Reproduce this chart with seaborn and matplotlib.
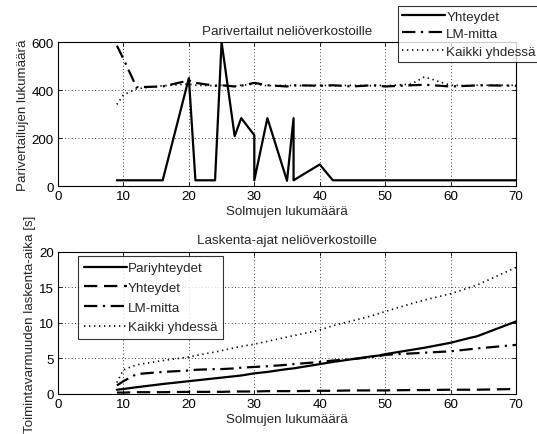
import matplotlib
matplotlib.use("Agg")
import matplotlib.pyplot as plt
import seaborn as sns
import pandas as pd

# Node counts (duplicates at 30 and 36 are two different square networks)
solmut = [9, 10, 12, 16, 20, 21, 24, 25, 27, 28, 30, 30, 32, 35, 36, 36,
          40, 42, 45, 48, 49, 50, 54, 56, 60, 63, 64, 70]

# Top: number of pairwise comparisons
par_yhteydet = [24, 24, 24, 24, 450, 24, 24, 600, 208, 283, 212, 24, 283, 22, 283, 24,
                90, 24, 24, 24, 24, 24, 24, 24, 24, 24, 24, 24]
par_lm = [585, 530, 412, 415, 440, 430, 418, 420, 415, 418, 430, 430, 420, 415, 420, 420,
          418, 420, 415, 420, 418, 415, 420, 422, 415, 418, 420, 418]
par_kaikki = [340, 380, 405, 418, 425, 420, 418, 420, 415, 420, 425, 425, 418, 420, 418, 418,
              420, 418, 420, 418, 420, 418, 425, 455, 420, 418, 420, 420]

# Bottom: computation times [s]
aika_pari = [0.6, 0.7, 0.95, 1.4, 1.8, 1.9, 2.2, 2.3, 2.5, 2.6, 2.9, 2.9, 3.1, 3.5, 3.6, 3.6,
             4.2, 4.5, 4.9, 5.3, 5.4, 5.6, 6.2, 6.5, 7.2, 7.9, 8.1, 10.2]
aika_yht = [0.2, 0.2, 0.25, 0.25, 0.3, 0.3, 0.3, 0.3, 0.35, 0.35, 0.35, 0.35, 0.4, 0.4, 0.4, 0.4,
            0.45, 0.45, 0.5, 0.5, 0.5, 0.5, 0.55, 0.55, 0.6, 0.6, 0.6, 0.7]
aika_lm = [1.2, 1.8, 2.8, 3.1, 3.3, 3.4, 3.5, 3.5, 3.6, 3.7, 3.8, 3.8, 3.9, 4.1, 4.2, 4.2,
           4.5, 4.7, 4.9, 5.2, 5.3, 5.5, 5.7, 5.8, 6.0, 6.3, 6.4, 6.9]
aika_kaikki = [1.6, 3.4, 4.1, 4.7, 5.2, 5.4, 5.9, 6.1, 6.5, 6.7, 7.0, 7.0, 7.4, 8.0, 8.2, 8.2,
               9.0, 9.6, 10.3, 11.0, 11.3, 11.6, 12.7, 13.2, 14.1, 15.0, 15.3, 17.8]

x_ticks = [0, 10, 20, 30, 40, 50, 60, 70]
y_ticks_top = [0, 200, 400, 600]
y_ticks_bot = [0, 5, 10, 15, 20]

sns.set_theme(style="white")
plt.rcParams['font.family'] = ['Liberation Sans', 'DejaVu Sans']
FS = 9.6
plt.rcParams['font.size'] = FS

fig = plt.figure(figsize=(5.37, 4.35), dpi=100)
ax1 = fig.add_axes([0.108, 0.570, 0.853, 0.331])
ax2 = fig.add_axes([0.108, 0.092, 0.853, 0.327])

df = pd.DataFrame({"x": solmut,
                   "py": par_yhteydet, "plm": par_lm, "pk": par_kaikki,
                   "ap": aika_pari, "ay": aika_yht, "alm": aika_lm, "ak": aika_kaikki})

SOLID = '-'
DASH = (0, (6, 3))
DASHDOT = (0, (6, 2.5, 1, 2.5))
DOT = (0, (0.8, 2.2))


def draw(ax, col, label, ls, lw=1.6):
    sns.lineplot(data=df, x="x", y=col, ax=ax, sort=False, estimator=None,
                 color='black', linestyle=ls, linewidth=lw, label=label)


draw(ax1, "py", "Yhteydet", SOLID)
draw(ax1, "plm", "LM-mitta", DASHDOT)
draw(ax1, "pk", "Kaikki yhdessä", DOT, 1.2)

draw(ax2, "ap", "Pariyhteydet", SOLID)
draw(ax2, "ay", "Yhteydet", DASH)
draw(ax2, "alm", "LM-mitta", DASHDOT)
draw(ax2, "ak", "Kaikki yhdessä", DOT, 1.2)

for ax, yt, ylim in [(ax1, y_ticks_top, (0, 600)), (ax2, y_ticks_bot, (0, 20))]:
    ax.set_xlim(0, 70)
    ax.set_ylim(*ylim)
    ax.set_xticks(x_ticks)
    ax.set_yticks(yt)
    ax.grid(True, color='black', linestyle=(0, (1, 3)), linewidth=0.6)
    for s in ax.spines.values():
        s.set_color('black')
        s.set_linewidth(0.8)
    ax.tick_params(direction='in', length=3, width=0.6, colors='black',
                   labelsize=FS, top=True, right=True, bottom=True, left=True, pad=3)
    ax.set_xlabel("Solmujen lukumäärä", fontsize=FS, labelpad=2)
    ax.set_facecolor('white')

ax1.set_ylabel("Parivertailujen lukumäärä", fontsize=FS, labelpad=2)
ax2.set_ylabel("Toimintavarmuuden laskenta-aika [s]", fontsize=FS, labelpad=2)
ax1.set_title("Parivertailut neliöverkostoille", fontsize=FS, pad=6)
ax2.set_title("Laskenta-ajat neliöverkostoille", fontsize=FS, pad=6)

common = dict(fontsize=FS, frameon=True, fancybox=False, edgecolor='black',
              handlelength=3.2, handletextpad=0.1, borderaxespad=0)

leg1 = ax1.legend(loc='upper right', bbox_to_anchor=(1.005, 0.983),
                  bbox_transform=fig.transFigure, borderpad=0.3,
                  labelspacing=0.38, **common)
leg1.get_frame().set_linewidth(0.8)

leg2 = ax2.legend(loc='upper left', bbox_to_anchor=(0.145, 0.409),
                  bbox_transform=fig.transFigure, borderpad=0.45,
                  labelspacing=0.55, **common)
leg2.get_frame().set_linewidth(0.8)

fig.savefig("out.png", dpi=100, facecolor='white')
